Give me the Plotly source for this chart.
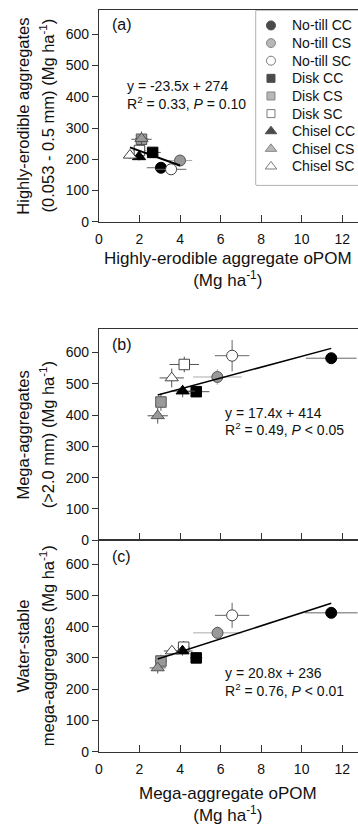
import plotly.graph_objects as go

W, H = 358, 834
FONT = "Liberation Sans, Arial, sans-serif"

# ---------------- data ----------------
treatments = ["No-till CC", "No-till CS", "No-till SC",
              "Disk CC", "Disk CS", "Disk SC",
              "Chisel CC", "Chisel CS", "Chisel SC"]

# panel (a): highly-erodible aggregates vs highly-erodible aggregate oPOM
a_x = [3.06, 4.00, 3.56, 2.65, 2.10, 2.00, 1.98, 2.10, 1.53]
a_y = [173, 196, 168, 222, 264, 228, 208, 266, 213]
a_xerr = [0.70, 0.60, 0.75, 0.40, 0.50, 0.30, 0.20, 0.30, 0.20]
a_yerr = [10, 10, 10, 12, 25, 15, 12, 20, 12]

# panel (b): mega-aggregates vs mega-aggregate oPOM
b_x = [11.46, 5.84, 6.57, 4.80, 3.06, 4.21, 4.13, 2.90, 3.59]
b_y = [582, 522, 590, 475, 442, 562, 477, 398, 519]
b_xerr = [1.25, 1.20, 0.85, 0.65, 0.20, 0.73, 0.60, 0.50, 0.60]
b_yerr = [8, 25, 50, 10, 28, 25, 20, 25, 30]

# panel (c): water-stable mega-aggregates vs mega-aggregate oPOM
c_x = [11.46, 5.85, 6.57, 4.80, 3.06, 4.18, 4.12, 2.90, 3.60]
c_y = [444, 380, 436, 300, 290, 334, 322, 268, 322]
c_xerr = [1.30, 1.20, 0.85, 0.30, 0.30, 0.30, 0.50, 0.40, 0.40]
c_yerr = [10, 20, 40, 10, 20, 20, 15, 18, 15]

slopes = [-23.5, 17.4, 20.8]
intercepts = [274, 414, 236]
r2 = ["0.33", "0.49", "0.76"]
pvals = ["= 0.10", "< 0.05", "< 0.01"]
panel_labels = ["(a)", "(b)", "(c)"]

x_ticks = [0, 2, 4, 6, 8, 10, 12]
y_ticks = [0, 100, 200, 300, 400, 500, 600]

# ---------------- styles ----------------
symbols = ["circle"] * 3 + ["square"] * 3 + ["triangle-up"] * 3
fills = ["#000000", "#999999", "#ffffff"] * 3
edges = ["#000000", "#555555", "#444444"] * 3
sizes = [11, 11, 11, 10.5, 10.5, 10.5, 11.5, 11.5, 11.5]
leg_sizes = [9, 9, 9, 8, 8, 8, 10, 10, 10]
err_colors = ["#666666", "#aaaaaa", "#666666"] + ["#555555"] * 6


def ydom(top, bottom):
    return [1 - bottom / H, 1 - top / H]


xdom = [96 / W, 1.0]
doms = [ydom(10.5, 224), ydom(332, 545.5), ydom(545.5, 759)]

fig = go.Figure()
panels = [(a_x, a_y, a_xerr, a_yerr), (b_x, b_y, b_xerr, b_yerr), (c_x, c_y, c_xerr, c_yerr)]

for p, (px, py, pxe, pye) in enumerate(panels):
    xa = "x" if p == 0 else f"x{p+1}"
    ya = "y" if p == 0 else f"y{p+1}"
    for i, name in enumerate(treatments):
        fig.add_trace(go.Scatter(
            x=[px[i]], y=[py[i]], mode="markers", name=name, showlegend=False,
            xaxis=xa, yaxis=ya,
            marker=dict(symbol=symbols[i], size=sizes[i], color=fills[i],
                        line=dict(color=edges[i], width=1)),
            error_x=dict(type="data", array=[pxe[i]], color=err_colors[i],
                         thickness=1, width=0),
            error_y=dict(type="data", array=[pye[i]], color=err_colors[i],
                         thickness=1, width=0),
        ))
    xmin, xmax = min(px), max(px)
    fig.add_trace(go.Scatter(
        x=[xmin, xmax],
        y=[slopes[p] * xmin + intercepts[p], slopes[p] * xmax + intercepts[p]],
        mode="lines", showlegend=False, xaxis=xa, yaxis=ya,
        line=dict(color="#000000", width=2 if p == 0 else 1.5),
    ))

# manual legend on its own hidden axes (x4/y4)
leg_top, leg_bot = 10.5, 186.7
row0, drow = 25.7, 17.8
leg_idx = list(range(len(treatments)))
fig.add_trace(go.Scatter(
    x=[15] * len(treatments), y=leg_idx, mode="markers", showlegend=False,
    xaxis="x4", yaxis="y4",
    marker=dict(symbol=symbols, size=leg_sizes, color=fills,
                line=dict(color=edges, width=1)),
))

axis_common = dict(showgrid=False, zeroline=False, showline=True,
                   linecolor="#333333", linewidth=1,
                   tickfont=dict(family=FONT, size=14, color="#111111"),
                   tickcolor="#333333")

layout = dict(
    width=W, height=H, margin=dict(l=0, r=0, t=0, b=0),
    paper_bgcolor="white", plot_bgcolor="white", showlegend=False,
    font=dict(family=FONT, color="#111111"),
)
for p in range(3):
    sx = "" if p == 0 else str(p + 1)
    layout["xaxis" + sx] = dict(
        axis_common, domain=xdom, range=[0, 12.78], anchor="y" + sx,
        tickvals=x_ticks, ticks="inside", ticklen=7, mirror=True,
        showticklabels=(p != 1), ticklabelstandoff=4,
    )
    layout["yaxis" + sx] = dict(
        axis_common, domain=doms[p], range=[0, 676], anchor="x" + sx,
        tickvals=y_ticks, ticks="outside", ticklen=6, mirror=False,
    )

layout["xaxis4"] = dict(domain=[255 / W, 1.0], range=[0, 103], anchor="y4",
                        visible=False, fixedrange=True)
layout["yaxis4"] = dict(domain=ydom(leg_top, leg_bot),
                        range=[(leg_bot - row0) / drow, (leg_top - row0) / drow],
                        anchor="x4", visible=False, fixedrange=True)
fig.update_layout(**layout)

# legend box
fig.add_shape(type="rect", xref="paper", yref="paper",
              x0=255 / W, x1=1.05, y0=1 - leg_bot / H, y1=1 - leg_top / H,
              line=dict(color="#555555", width=1), fillcolor="white", layer="below")

ann = []
for i, name in enumerate(treatments):
    ann.append(dict(x=35, y=i, xref="x4", yref="y4", text=name, showarrow=False,
                    xanchor="left", yanchor="middle", borderpad=0,
                    font=dict(family=FONT, size=14, color="#111111")))

# panel labels
for p, (top, lab) in enumerate(zip([25, 348, 562], panel_labels)):
    ann.append(dict(x=107 / W, y=1 - top / H, xref="paper", yref="paper", text=lab,
                    showarrow=False, xanchor="left", yanchor="middle",
                    font=dict(family=FONT, size=16, color="#111111")))

# regression equations
eq_pos = [(123, 87, 104), (222.7, 416.5, 433.5), (222.7, 680, 697)]
for p, (xl, y1, y2) in enumerate(eq_pos):
    sign = "-" if slopes[p] < 0 else ""
    ann.append(dict(x=xl / W, y=1 - y1 / H, xref="paper", yref="paper",
                    text=f"y = {sign}{abs(slopes[p])}x + {intercepts[p]}",
                    showarrow=False, xanchor="left", yanchor="middle", borderpad=0,
                    font=dict(family=FONT, size=14, color="#111111")))
    ann.append(dict(x=xl / W, y=1 - y2 / H, xref="paper", yref="paper",
                    text=f"R<sup>2</sup> = {r2[p]}, <i>P</i> {pvals[p]}",
                    showarrow=False, xanchor="left", yanchor="middle", borderpad=0,
                    font=dict(family=FONT, size=14, color="#111111")))

# y-axis titles
ytitles = [
    ("Highly-erodible aggregates", "(0.053 - 0.5 mm) (Mg ha<sup>-1</sup>)", 117),
    ("Mega-aggregates", "(>2.0 mm) (Mg ha<sup>-1</sup>)", 439),
    ("Water-stable", "mega-aggregates (Mg ha<sup>-1</sup>)", 652),
]
for l1, l2, yc in ytitles:
    ann.append(dict(x=19 / W, y=1 - yc / H, xref="paper", yref="paper", text=l1,
                    showarrow=False, textangle=-90, xanchor="center", yanchor="middle",
                    borderpad=0, font=dict(family=FONT, size=16.5, color="#111111")))
    ann.append(dict(x=43 / W, y=1 - yc / H, xref="paper", yref="paper", text=l2,
                    showarrow=False, textangle=-90, xanchor="center", yanchor="middle",
                    borderpad=0, font=dict(family=FONT, size=16.5, color="#111111")))

# x-axis titles (two lines each)
xtitles = [("Highly-erodible aggregate oPOM", 272.5),
           ("Mega-aggregate oPOM", 812)]
for l1, yc in xtitles:
    ann.append(dict(x=227 / W, y=1 - yc / H, xref="paper", yref="paper",
                    text=l1 + "<br>(Mg ha<sup>-1</sup>)",
                    showarrow=False, xanchor="center", yanchor="middle", borderpad=0,
                    font=dict(family=FONT, size=17, color="#111111")))

fig.update_layout(annotations=ann)
fig.write_html("out.html")
